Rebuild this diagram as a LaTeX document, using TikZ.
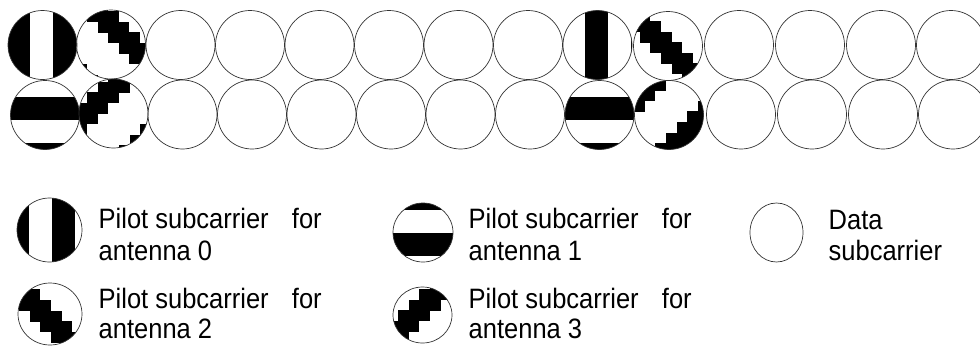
\documentclass[tikz,border=0pt]{standalone}
\usepackage{fontspec}
\setmainfont{Liberation Sans}
\usetikzlibrary{shapes.geometric}
\newcommand\cellsz{10.6}
% label text: slightly tall letters
\newcommand\tall[1]{\scalebox{1}[1.1]{#1}}
\newcommand\pilotline{\makebox[223pt][l]{\tall{Pilot subcarrier}\hfill\tall{for}}}
\tikzset{
  sub/.style={ellipse, draw=black!80, line width=0.7pt, inner sep=0pt,
    minimum width=69pt, minimum height=69pt},
  legsub/.style 2 args={sub, minimum width=#1pt, minimum height=#2pt},
  lbl/.style={anchor=base west, inner sep=0pt, font=\fontsize{25.5}{32}\selectfont},
  % vertical black stripes, first stripe starting at offset #1
  vstripes/.style={path picture={
    \foreach \k in {-2,...,2}{
      \fill (path picture bounding box.center) ++({#1+46*\k},-40) rectangle ++(23,80);}}},
  % horizontal black stripes
  hstripes/.style={path picture={
    \foreach \k in {-2,...,2}{
      \fill (path picture bounding box.center) ++(-40,{#1+46*\k}) rectangle ++(80,23);}}},
  % staircase falling to the right
  stairdown/.style 2 args={path picture={
    \foreach \j in {-1,...,7}{\foreach \k in {-1,0,1}{
      \fill (path picture bounding box.center) ++({#1+(\j+8*\k)*\cellsz},{#2+\j*\cellsz})
        rectangle ++({3*\cellsz},{\cellsz+0.4});}}}},
  % staircase rising to the right
  stairup/.style 2 args={path picture={
    \foreach \j in {-1,...,7}{\foreach \k in {-1,0,1}{
      \fill (path picture bounding box.center) ++({#1+(8*\k-\j)*\cellsz},{#2+\j*\cellsz})
        rectangle ++({3*\cellsz},{\cellsz+0.4});}}}},
}
\begin{document}
\begin{tikzpicture}[x=1pt,y=-1pt]
\useasboundingbox (0,0) rectangle (980,346);

% upper row of subcarriers
\node[sub, vstripes=10.5]          (t0)  at (42.5,45) {};
\node[sub, stairdown={-24}{-33.5}] (t1)  at (111,44.5) {};
\node[sub] (t2)  at (180.5,45) {};
\node[sub] (t3)  at (250,45) {};
\node[sub] (t4)  at (319.5,45) {};
\node[sub] (t5)  at (389,45) {};
\node[sub] (t6)  at (458.5,45) {};
\node[sub] (t7)  at (528,45) {};
\node[sub, vstripes=-12.5]         (t8)  at (597.5,45) {};
\node[sub, stairdown={-49.4}{-35.6}] (t9) at (668,46) {};
\node[sub] (t10) at (739,45) {};
\node[sub] (t11) at (810,45) {};
\node[sub] (t12) at (881,45) {};
\node[sub] (t13) at (951,45) {};

% lower row of subcarriers
\node[sub, hstripes=-18]           (b0)  at (45,115) {};
\node[sub, stairup={-15.7}{-32}]   (b1)  at (113.5,113.5) {};
\node[sub] (b2)  at (182.5,114.5) {};
\node[sub] (b3)  at (252,114.5) {};
\node[sub] (b4)  at (321.5,114.5) {};
\node[sub] (b5)  at (391,114.5) {};
\node[sub] (b6)  at (460.5,114.5) {};
\node[sub] (b7)  at (530,114.5) {};
\node[sub, hstripes=-18]           (b8)  at (599.5,115) {};
\node[sub, stairup={-34.8}{-35.5}] (b9)  at (669,115) {};
\node[sub] (b10) at (741,114.5) {};
\node[sub] (b11) at (812,114.5) {};
\node[sub] (b12) at (883,114.5) {};
\node[sub] (b13) at (953,114.5) {};

% legend
\node[legsub={65}{64}, vstripes=2.5]            (k0) at (49.5,230) {};
\node[legsub={64}{62}, stairdown={-41.4}{-24.7}] (k2) at (50,314) {};
\node[legsub={60}{59}, hstripes=0.5]            (k1) at (423,232.5) {};
\node[legsub={59}{56}, stairup={-3.2}{-26}]     (k3) at (422.5,315) {};
\node[legsub={53}{59}]                          (kd) at (776.5,232.5) {};

\node[lbl] (k0a) at (98.5,228.3) {\pilotline};
\node[lbl] (k0b) at (98.5,260) {\tall{antenna 0}};
\node[lbl] (k2a) at (98.5,308) {\pilotline};
\node[lbl] (k2b) at (98.5,338.5) {\tall{antenna 2}};
\node[lbl] (k1a) at (468.5,228.3) {\pilotline};
\node[lbl] (k1b) at (468.5,260) {\tall{antenna 1}};
\node[lbl] (k3a) at (468.5,308) {\pilotline};
\node[lbl] (k3b) at (468.5,338.5) {\tall{antenna 3}};
\node[lbl] (kda) at (828.5,229) {\tall{Data}};
\node[lbl] (kdb) at (828.5,260) {\tall{subcarrier}};
\end{tikzpicture}
\end{document}
